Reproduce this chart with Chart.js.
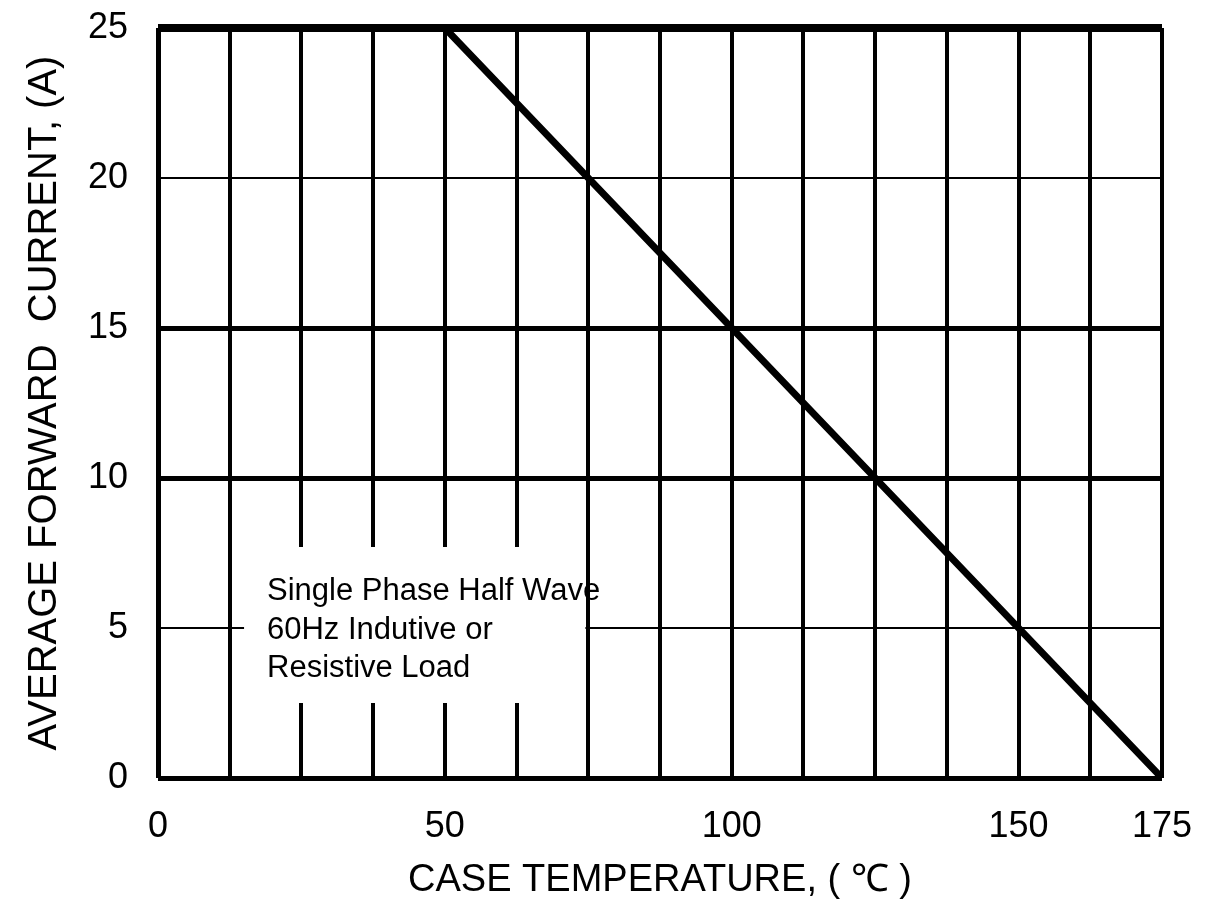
<!DOCTYPE html>
<html>
<head>
<meta charset="utf-8">
<title>Average Forward Current vs Case Temperature</title>
<script src="https://cdn.jsdelivr.net/npm/chart.js"></script>
<style>
  html, body { margin: 0; padding: 0; background: #fff; }
  #wrap { width: 1221px; height: 903px; }
</style>
</head>
<body>
<div id="wrap"><canvas id="derating" width="1221" height="903"></canvas></div>
<script>
// derating curve
const caseTemp = [0, 50, 175];
const avgCurrent = [25, 25, 0];

// vertical grid every 12.5 C, labels only on some of them
const xGridValues = [0, 12.5, 25, 37.5, 50, 62.5, 75, 87.5, 100, 112.5, 125, 137.5, 150, 162.5, 175];
const xLabelValues = [0, 50, 100, 150, 175];
const yTickValues = [0, 5, 10, 15, 20, 25];

const xTitle = 'CASE TEMPERATURE, ( \u2103 )';
const yTitle = 'AVERAGE FORWARD  CURRENT, (A)';

// note in the lower left, box given in data units
const noteLines = ['Single Phase Half Wave', '60Hz Indutive or', 'Resistive Load'];
const noteBoxX = [15, 74.5];
const noteBoxY = [2.5, 7.7];
const noteAnchor = [19, 5.93];

const FONT = "'Liberation Sans', Arial, Helvetica, sans-serif";

// thicker lines where the original print has them
const yGridWidth = { 0: 5, 5: 2, 10: 5, 15: 5, 20: 2, 25: 8 };

const notePlugin = {
    id: 'noteBox',
    beforeDatasetsDraw(chart) {
        const { ctx, scales: { x, y } } = chart;
        const left = x.getPixelForValue(noteBoxX[0]);
        const right = x.getPixelForValue(noteBoxX[1]);
        const top = y.getPixelForValue(noteBoxY[1]);
        const bottom = y.getPixelForValue(noteBoxY[0]);
        ctx.save();
        ctx.fillStyle = '#fff';
        ctx.fillRect(left, top, right - left, bottom - top);
        ctx.fillStyle = '#000';
        ctx.font = '31px ' + FONT;
        ctx.textAlign = 'left';
        ctx.textBaseline = 'alphabetic';
        const tx = x.getPixelForValue(noteAnchor[0]);
        const ty = y.getPixelForValue(noteAnchor[1]);
        noteLines.forEach((line, i) => ctx.fillText(line, tx, ty + i * 38.5));
        ctx.restore();
    }
};

new Chart(document.getElementById('derating').getContext('2d'), {
    type: 'line',
    data: {
        datasets: [{
            data: caseTemp.map((t, i) => ({ x: t, y: avgCurrent[i] })),
            borderColor: '#000',
            borderWidth: 7,
            pointRadius: 0,
            tension: 0,
            fill: false
        }]
    },
    options: {
        responsive: false,
        animation: false,
        layout: { padding: { top: 28, right: 59, bottom: 0, left: 0 } },
        plugins: { legend: { display: false }, tooltip: { enabled: false } },
        scales: {
            x: {
                type: 'linear',
                min: 0,
                max: 175,
                afterBuildTicks: axis => { axis.ticks = xGridValues.map(v => ({ value: v })); },
                afterFit: axis => { axis.height = 125; },
                ticks: {
                    autoSkip: false,
                    maxRotation: 0,
                    padding: 27,
                    color: '#000',
                    font: { family: FONT, size: 36 },
                    callback: v => xLabelValues.includes(v) ? String(v) : ''
                },
                grid: {
                    color: '#000',
                    drawTicks: false,
                    lineWidth: c => (c.tick && c.tick.value === 0) ? 5 : 4
                },
                border: { display: false },
                title: {
                    display: true,
                    text: xTitle,
                    color: '#000',
                    font: { family: FONT, size: 38 },
                    padding: { top: 0, bottom: 0 }
                }
            },
            y: {
                type: 'linear',
                min: 0,
                max: 25,
                afterBuildTicks: axis => { axis.ticks = yTickValues.map(v => ({ value: v })); },
                // fixed width, and no extra room above for the top label
                afterFit: axis => {
                    axis.width = 158;
                    axis.paddingTop = 0;
                    axis.paddingBottom = 0;
                },
                ticks: {
                    padding: 30,
                    color: '#000',
                    font: { family: FONT, size: 36 }
                },
                grid: {
                    color: '#000',
                    drawTicks: false,
                    lineWidth: c => (c.tick && yGridWidth[c.tick.value]) || 2
                },
                border: { display: false },
                title: {
                    display: true,
                    text: yTitle,
                    color: '#000',
                    font: { family: FONT, size: 40 },
                    padding: { top: 21, bottom: 0 }
                }
            }
        }
    },
    plugins: [notePlugin]
});
</script>
</body>
</html>
